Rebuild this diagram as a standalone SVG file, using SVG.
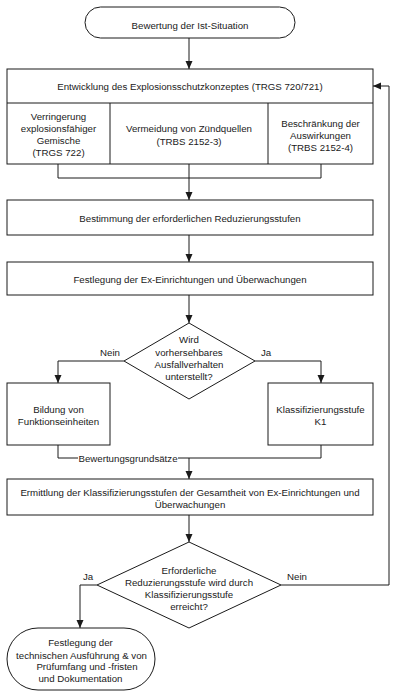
<svg xmlns="http://www.w3.org/2000/svg" width="400" height="695" viewBox="0 0 400 695">
<style>
.s{fill:#fff;stroke:#1a1a1a;stroke-width:1}
.l{fill:none;stroke:#1a1a1a;stroke-width:1}
text{font-family:"Liberation Sans",Arial,sans-serif;font-size:9.7px;fill:#1a1a1a;text-anchor:middle}
</style>
<defs>
<marker id="a" markerWidth="8" markerHeight="8" refX="8" refY="4" orient="auto" markerUnits="userSpaceOnUse">
<path d="M0,0.5 L8,4 L0,7.5 Z" fill="#1a1a1a"/>
</marker>
</defs>
<rect width="400" height="695" fill="#fff"/>
<g id="connectors">
<line class="l" x1="189" y1="38" x2="189" y2="69" marker-end="url(#a)"/>
<polyline class="l" points="58,164 58,178 321,178 321,164"/>
<line class="l" x1="189" y1="164" x2="189" y2="200" marker-end="url(#a)"/>
<line class="l" x1="189" y1="235" x2="189" y2="262" marker-end="url(#a)"/>
<line class="l" x1="189" y1="295" x2="189" y2="323" marker-end="url(#a)"/>
<polyline class="l" points="124,361 58,361 58,383" marker-end="url(#a)"/>
<polyline class="l" points="255,361 321,361 321,383" marker-end="url(#a)"/>
<polyline class="l" points="58,445 58,458 321,458 321,445"/>
<line class="l" x1="189" y1="458" x2="189" y2="479" marker-end="url(#a)"/>
<line class="l" x1="189" y1="515" x2="189" y2="542" marker-end="url(#a)"/>
<polyline class="l" points="97,585 80,585 80,628" marker-end="url(#a)"/>
<polyline class="l" points="281,585 389,585 389,86 373,86" marker-end="url(#a)"/>
<rect x="78" y="452" width="100" height="11" fill="#fff"/>
<text x="128" y="461.5">Bewertungsgrundsätze</text>
<text x="110" y="356">Nein</text>
<text x="266" y="356">Ja</text>
<text x="88" y="580">Ja</text>
<text x="297" y="580">Nein</text>
</g>
<g id="start">
<rect class="s" x="85" y="7" width="210" height="31" rx="15.5"/>
<text x="190" y="28.5">Bewertung der Ist-Situation</text>
</g>
<g id="konzept">
<rect class="s" x="7" y="69" width="366" height="95"/>
<line class="l" x1="7" y1="103" x2="373" y2="103"/>
<line class="l" x1="110" y1="103" x2="110" y2="164"/>
<line class="l" x1="268" y1="103" x2="268" y2="164"/>
<text x="190" y="89.5">Entwicklung des Explosionsschutzkonzeptes (TRGS 720/721)</text>
</g>
<g id="verringerung">
<text x="58.5" y="120">Verringerung</text>
<text x="58.5" y="132">explosionsfähiger</text>
<text x="58.5" y="144">Gemische</text>
<text x="58.5" y="156">(TRGS 722)</text>
</g>
<g id="vermeidung">
<text x="189" y="132">Vermeidung von Zündquellen</text>
<text x="189" y="145">(TRBS 2152-3)</text>
</g>
<g id="beschraenkung">
<text x="320.5" y="127">Beschränkung der</text>
<text x="320.5" y="139">Auswirkungen</text>
<text x="320.5" y="151">(TRBS 2152-4)</text>
</g>
<g id="bestimmung">
<rect class="s" x="7" y="200" width="366" height="35"/>
<text x="190" y="221.5">Bestimmung der erforderlichen Reduzierungsstufen</text>
</g>
<g id="festlegung">
<rect class="s" x="7" y="262" width="366" height="33"/>
<text x="190" y="282.5">Festlegung der Ex-Einrichtungen und Überwachungen</text>
</g>
<g id="entscheidung1">
<polygon class="s" points="189,323 255,361 189,399 124,361"/>
<text x="189" y="342.5">Wird</text>
<text x="189" y="355.5">vorhersehbares</text>
<text x="189" y="367.5">Ausfallverhalten</text>
<text x="189" y="380">unterstellt?</text>
</g>
<g id="bildung">
<rect class="s" x="7" y="383" width="103" height="62"/>
<text x="58.5" y="412.5">Bildung von</text>
<text x="58.5" y="425">Funktionseinheiten</text>
</g>
<g id="k1">
<rect class="s" x="268" y="383" width="105" height="62"/>
<text x="320.5" y="412.5">Klassifizierungsstufe</text>
<text x="320.5" y="425">K1</text>
</g>
<g id="ermittlung">
<rect class="s" x="7" y="479" width="366" height="36"/>
<text x="190" y="496">Ermittlung der Klassifizierungsstufen der Gesamtheit von Ex-Einrichtungen und</text>
<text x="190" y="507.5">Überwachungen</text>
</g>
<g id="entscheidung2">
<polygon class="s" points="189,542 281,585 189,628 97,585"/>
<text x="189" y="574">Erforderliche</text>
<text x="189" y="585.5">Reduzierungsstufe wird durch</text>
<text x="189" y="597.5">Klassifizierungsstufe</text>
<text x="189" y="609.5">erreicht?</text>
</g>
<g id="ende">
<rect class="s" x="7" y="628" width="148" height="62" rx="31"/>
<text x="80.5" y="646">Festlegung der</text>
<text x="81.5" y="658.5">technischen Ausführung &amp; von</text>
<text x="87" y="670">Prüfumfang und -fristen</text>
<text x="80.5" y="682">und Dokumentation</text>
</g>
</svg>
